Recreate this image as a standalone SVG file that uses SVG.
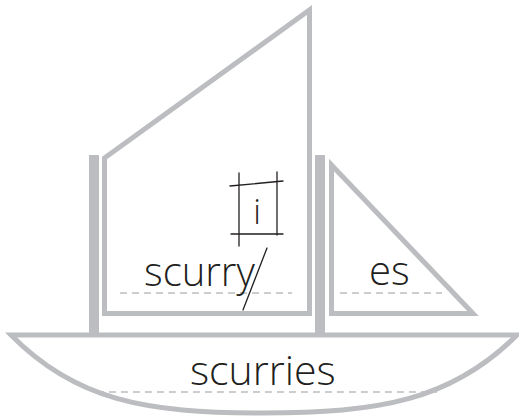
<svg xmlns="http://www.w3.org/2000/svg" width="519" height="419" viewBox="0 0 519 419">
  <style>
    .frame { fill: none; stroke: #bcbdc0; stroke-width: 5; stroke-linejoin: miter; stroke-miterlimit: 20; }
    .mast { fill: #bcbdc0; }
    .guide { stroke: #bcbdc0; stroke-width: 1.6; stroke-dasharray: 7 5; fill: none; }
    .word { font-family: "Open Sans", "DejaVu Sans", sans-serif; font-weight: 300; fill: #231f20; }
    .pen { stroke: #231f20; stroke-width: 1.3; fill: none; stroke-linecap: round; }
  </style>
  <rect width="519" height="419" fill="#ffffff"/>

  <!-- masts -->
  <g id="masts">
    <rect class="mast" x="89" y="155" width="10" height="180"/>
    <rect class="mast" x="315" y="155" width="10" height="180"/>
  </g>

  <!-- main sail with the root word -->
  <g id="main-sail">
    <polygon class="frame" points="104.5,158 309.5,10 309.5,313.5 104.5,313.5"/>
    <line class="guide" x1="120" y1="293" x2="292" y2="293"/>
    <text class="word" x="144" y="286" font-size="40">scurry</text>
    <!-- y crossed out -->
    <line class="pen" x1="267" y1="248" x2="243" y2="310"/>
  </g>

  <!-- replacement letter box -->
  <g id="change-box">
    <line class="pen" x1="230" y1="186" x2="283" y2="181"/>
    <line class="pen" x1="239" y1="173" x2="239" y2="246"/>
    <line class="pen" x1="277" y1="172" x2="277" y2="235"/>
    <line class="pen" x1="231" y1="234" x2="283" y2="234"/>
    <text class="word" x="257" y="224" font-size="34" text-anchor="middle">i</text>
  </g>

  <!-- jib with the suffix -->
  <g id="jib">
    <polygon class="frame" points="331.5,165 473,313.5 331.5,313.5"/>
    <line class="guide" x1="340" y1="293" x2="442" y2="293"/>
    <text class="word" x="369" y="285" font-size="40">es</text>
  </g>

  <!-- hull with the result -->
  <g id="hull">
    <path class="frame" d="M11,335 L517,335 C452,400 380,413 262,413 C145,413 75,400 11,335 Z"/>
    <line class="guide" x1="97" y1="392" x2="437" y2="392"/>
    <text class="word" x="190" y="385" font-size="41">scurries</text>
  </g>
</svg>
